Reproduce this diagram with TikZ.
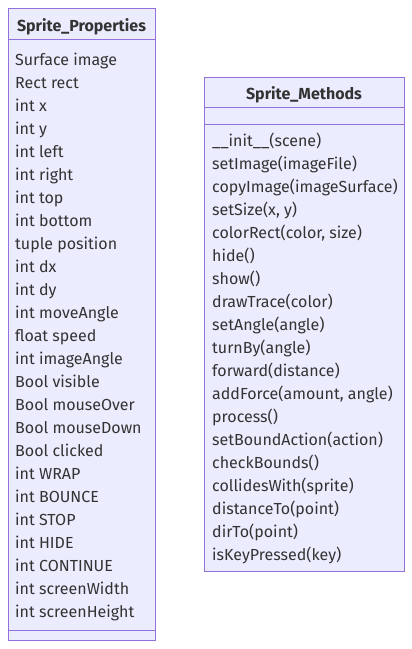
\documentclass[tikz,border=0pt]{standalone}
\usepackage{fontspec}
\setmainfont{Fira Sans}
\definecolor{classfill}{HTML}{ECECFF}
\definecolor{classline}{HTML}{9370DB}
\definecolor{classtext}{HTML}{333333}
\begin{document}
\begin{tikzpicture}[x=1pt,y=-1pt,
  classbox/.style={draw=classline,fill=classfill,line width=1pt},
  divider/.style={draw=classline,line width=1pt},
  member/.style={anchor=base west,inner sep=0pt,text=classtext,font=\fontsize{16}{19}\selectfont},
  title/.style={anchor=base,inner sep=0pt,text=classtext,font=\fontsize{16}{19}\selectfont\bfseries}]
\useasboundingbox (0,0) rectangle (412,649);

% Sprite_Properties class
\draw[classbox] (8,8) rectangle (155,640);
\draw[divider] (8,39) -- (155,39);
\draw[divider] (8,630) -- (155,630);
\node[title] (ptitle) at (81.5,31) {Sprite\_Properties};
\foreach \t [count=\i from 0] in {Surface image, Rect rect, int x, int y, int left, int right,
  int top, int bottom, tuple position, int dx, int dy, int moveAngle, float speed,
  int imageAngle, Bool visible, Bool mouseOver, Bool mouseDown, Bool clicked, int WRAP,
  int BOUNCE, int STOP, int HIDE, int CONTINUE, int screenWidth, int screenHeight}
  \node[member] (p\i) at (15,65.7+23*\i) {\t};

% Sprite_Methods class
\draw[classbox] (204,77.5) rectangle (404,571.5);
\draw[divider] (204,107.5) -- (404,107.5);
\draw[divider] (204,124) -- (404,124);
\node[title] (mtitle) at (304,99) {Sprite\_Methods};
\foreach \t [count=\i from 0] in {\_\_init\_\_(scene), setImage(imageFile),
  copyImage(imageSurface), {setSize(x, y)}, {colorRect(color, size)}, hide(), show(),
  drawTrace(color), setAngle(angle), turnBy(angle), forward(distance),
  {addForce(amount, angle)}, process(), setBoundAction(action), checkBounds(),
  collidesWith(sprite), distanceTo(point), dirTo(point), isKeyPressed(key)}
  \node[member] (m\i) at (212,146.7+23*\i) {\t};
\end{tikzpicture}
\end{document}
